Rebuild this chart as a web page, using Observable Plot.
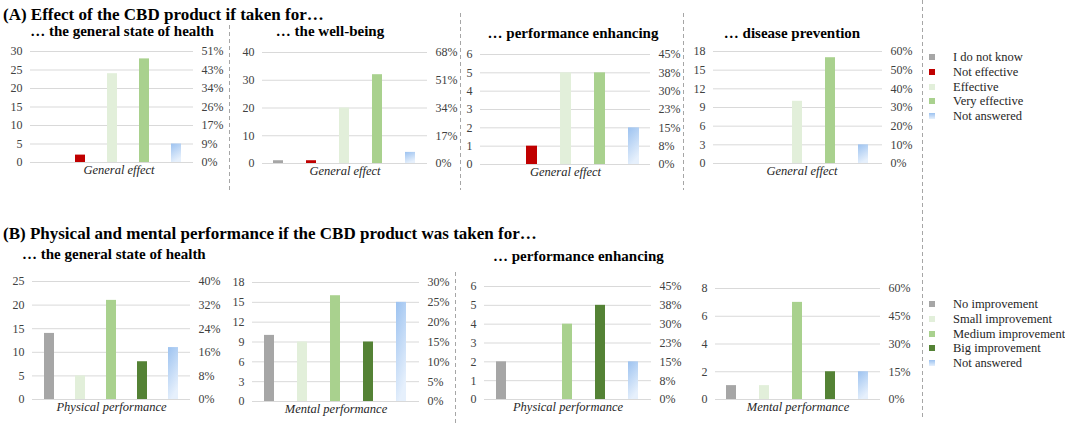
<!DOCTYPE html>
<html>
<head>
<meta charset="utf-8">
<script src="https://cdn.jsdelivr.net/npm/d3@7"></script>
<script src="https://cdn.jsdelivr.net/npm/@observablehq/plot@0.6"></script>
<style>
  html, body { margin: 0; padding: 0; background: #fff; }
  #page { position: relative; width: 1065px; height: 428px; overflow: hidden; background: #fff; font-family: "Liberation Serif", "Times New Roman", Times, "DejaVu Serif", "Noto Serif", serif; }
  .txt { position: absolute; white-space: nowrap; line-height: 1; }
  .title { font-weight: bold; font-size: 17px; color: #000; }
  .sub { font-weight: bold; font-size: 15px; color: #000; }
  .leg { font-size: 12.5px; color: #262626; }
  .panel { position: absolute; }
</style>
</head>
<body>
<svg width="0" height="0" style="position:absolute">
  <defs>
    <linearGradient id="naGrad" x1="0" y1="0" x2="0.35" y2="1">
      <stop offset="0" stop-color="#9CC2F0"/>
      <stop offset="1" stop-color="#E6F0FC"/>
    </linearGradient>
  </defs>
</svg>
<div id="page"></div>
<script>
// ---------------- DATA ----------------
const effectCategories = ["I do not know", "Not effective", "Effective", "Very effective", "Not answered"];
const improvementCategories = ["No improvement", "Small improvement", "Medium improvement", "Big improvement", "Not answered"];

// (A) General effect counts
const effectHealth      = [0, 2, 24, 28, 5];
const effectWellBeing   = [1, 1, 20, 32, 4];
const effectPerformance = [0, 1, 5, 5, 2];
const effectDisease     = [0, 0, 10, 17, 3];

// (B) improvement counts
const physicalHealth      = [14, 5, 21, 8, 11];
const mentalHealth        = [10, 9, 16, 9, 15];
const physicalPerformance = [2, 0, 4, 5, 2];
const mentalPerformance   = [1, 1, 7, 2, 2];

// tick values (left) and percentage labels (right)
const ticksA1 = [0, 5, 10, 15, 20, 25, 30];
const pctA1   = ["0%", "9%", "17%", "26%", "34%", "43%", "51%"];
const ticksA2 = [0, 10, 20, 30, 40];
const pctA2   = ["0%", "17%", "34%", "51%", "68%"];
const ticksA3 = [0, 1, 2, 3, 4, 5, 6];
const pctA3   = ["0%", "8%", "15%", "23%", "30%", "38%", "45%"];
const ticksA4 = [0, 3, 6, 9, 12, 15, 18];
const pctA4   = ["0%", "10%", "20%", "30%", "40%", "50%", "60%"];
const ticksB1 = [0, 5, 10, 15, 20, 25];
const pctB1   = ["0%", "8%", "16%", "24%", "32%", "40%"];
const ticksB2 = [0, 3, 6, 9, 12, 15, 18];
const pctB2   = ["0%", "5%", "10%", "15%", "20%", "25%", "30%"];
const ticksB3 = [0, 1, 2, 3, 4, 5, 6];
const pctB3   = ["0%", "8%", "15%", "23%", "30%", "38%", "45%"];
const ticksB4 = [0, 2, 4, 6, 8];
const pctB4   = ["0%", "15%", "30%", "45%", "60%"];

const titleA = "(A) Effect of the CBD product if taken for…";
const titleB = "(B) Physical and mental performance if the CBD product was taken for…";
const subHealth = "… the general state of health";
const subWell = "… the well-being";
const subPerf = "… performance enhancing";
const subDisease = "… disease prevention";
const xGeneral = "General effect";
const xPhysical = "Physical performance";
const xMental = "Mental performance";

// ---------------- STYLE ----------------
const effectColors = ["#A6A6A6", "#C00000", "#E2EFDA", "#A9D18E", "url(#naGrad)"];
const improvementColors = ["#A6A6A6", "#E2EFDA", "#A9D18E", "#548235", "url(#naGrad)"];
const serifFont = "'Liberation Serif', 'Times New Roman', Times, 'DejaVu Serif', 'Noto Serif', serif";

// ---------------- LAYOUT (page pixels of plot frames) ----------------
const panels = [
  {cats: effectCategories, colors: effectColors, values: effectHealth, ticks: ticksA1, pct: pctA1, xlabel: xGeneral, x0: 30, x1: 193, yTop: 51, y0: 162, dxLabel: 7},
  {cats: effectCategories, colors: effectColors, values: effectWellBeing, ticks: ticksA2, pct: pctA2, xlabel: xGeneral, x0: 262, x1: 427, yTop: 52, y0: 163, dxLabel: 0},
  {cats: effectCategories, colors: effectColors, values: effectPerformance, ticks: ticksA3, pct: pctA3, xlabel: xGeneral, x0: 480, x1: 650, yTop: 54, y0: 164, dxLabel: 0},
  {cats: effectCategories, colors: effectColors, values: effectDisease, ticks: ticksA4, pct: pctA4, xlabel: xGeneral, x0: 713, x1: 882, yTop: 51, y0: 163, dxLabel: 4},
  {cats: improvementCategories, colors: improvementColors, values: physicalHealth, ticks: ticksB1, pct: pctB1, xlabel: xPhysical, x0: 32, x1: 190, yTop: 281, y0: 399, dxLabel: 0},
  {cats: improvementCategories, colors: improvementColors, values: mentalHealth, ticks: ticksB2, pct: pctB2, xlabel: xMental, x0: 252, x1: 419, yTop: 282, y0: 401, dxLabel: 0},
  {cats: improvementCategories, colors: improvementColors, values: physicalPerformance, ticks: ticksB3, pct: pctB3, xlabel: xPhysical, x0: 484, x1: 651, yTop: 286, y0: 399, dxLabel: 0},
  {cats: improvementCategories, colors: improvementColors, values: mentalPerformance, ticks: ticksB4, pct: pctB4, xlabel: xMental, x0: 715, x1: 880, yTop: 288, y0: 399, dxLabel: 0}
];

const page = document.getElementById("page");
const mL = 40, mR = 40, mT = 10, mB = 28;

for (const p of panels) {
  const data = p.cats.map((c, i) => ({category: c, value: p.values[i]}));
  const ticks = p.ticks, pct = p.pct;
  const chart = Plot.plot({
    width: p.x1 - p.x0 + mL + mR,
    height: p.y0 - p.yTop + mT + mB,
    marginLeft: mL, marginRight: mR, marginTop: mT, marginBottom: mB,
    style: {fontFamily: serifFont, fontSize: "12px", color: "#404040", background: "transparent", overflow: "visible"},
    x: {domain: p.cats, paddingInner: 0.69, paddingOuter: 0.345, axis: null},
    y: {domain: [0, ticks[ticks.length - 1]], axis: null},
    color: {domain: p.cats, range: p.colors},
    marks: [
      Plot.ruleY(ticks, {stroke: "#D9D9D9", strokeWidth: 1}),
      Plot.axisY(ticks, {anchor: "left", tickSize: 0, tickPadding: 8, label: null, fill: "#404040", fontFamily: serifFont}),
      Plot.axisY(ticks, {anchor: "right", tickSize: 0, tickPadding: 8, label: null, fill: "#404040", fontFamily: serifFont,
        tickFormat: d => pct[ticks.indexOf(d)]}),
      Plot.barY(data, {x: "category", y: "value", fill: "category"}),
      Plot.text([p.xlabel], {frameAnchor: "bottom", dy: 11, dx: p.dxLabel, text: d => d, fontStyle: "italic",
        fontSize: 12.5, fill: "#262626", fontFamily: serifFont})
    ]
  });
  chart.classList.add("panel");
  chart.style.left = (p.x0 - mL) + "px";
  chart.style.top = (p.yTop - mT) + "px";
  chart.style.maxWidth = "none";
  page.appendChild(chart);
}

// ---------------- TEXT ----------------
function addText(str, cls, x, y, anchor) {
  const d = document.createElement("div");
  d.className = "txt " + cls;
  d.textContent = str;
  d.style.left = x + "px";
  d.style.top = y + "px";
  d.style.transform = anchor === "middle" ? "translate(-50%, -50%)" : "translate(0, -50%)";
  page.appendChild(d);
}
addText(titleA, "title", 3, 14, "start");
addText(subHealth, "sub", 122, 31, "middle");
addText(subWell, "sub", 330, 31, "middle");
addText(subPerf, "sub", 573, 33, "middle");
addText(subDisease, "sub", 792, 33, "middle");
addText(titleB, "title", 3, 233, "start");
addText(subHealth, "sub", 22, 254, "start");
addText(subPerf, "sub", 493, 256, "start");

// ---------------- LEGENDS ----------------
function legend(cats, colors, yStart, step) {
  cats.forEach((c, i) => {
    const y = yStart + i * step;
    const sw = document.createElement("div");
    sw.style.cssText = `position:absolute;left:929px;top:${y - 3}px;width:6px;height:6px;background:${colors[i].startsWith("url") ? "linear-gradient(#9CC2F0,#E6F0FC)" : colors[i]};`;
    page.appendChild(sw);
    addText(c, "leg", 953, y, "start");
  });
}
legend(effectCategories, effectColors, 57, 14.8);
legend(improvementCategories, improvementColors, 304, 14.8);

// ---------------- SEPARATORS ----------------
const seps = [[229, 25, 190], [460, 13, 190], [683, 13, 190], [455, 272, 423], [922, 0, 420]];
const ns = "http://www.w3.org/2000/svg";
const ov = document.createElementNS(ns, "svg");
ov.setAttribute("width", 1065); ov.setAttribute("height", 428);
ov.style.cssText = "position:absolute;left:0;top:0;pointer-events:none";
for (const [x, y1, y2] of seps) {
  const l = document.createElementNS(ns, "line");
  l.setAttribute("x1", x + 0.5); l.setAttribute("x2", x + 0.5);
  l.setAttribute("y1", y1); l.setAttribute("y2", y2);
  l.setAttribute("stroke", "#A6A6A6"); l.setAttribute("stroke-width", 1);
  l.setAttribute("stroke-dasharray", "4,3");
  ov.appendChild(l);
}
page.appendChild(ov);
</script>
</body>
</html>
